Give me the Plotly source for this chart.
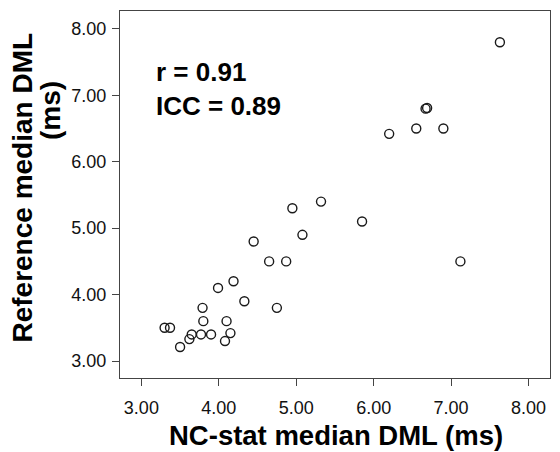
import plotly.graph_objects as go

nc_stat = [4.95, 5.32, 5.85, 5.08, 4.45, 4.65, 4.87, 7.12, 4.19, 3.99, 4.33, 4.75,
           3.79, 3.80, 4.10, 3.30, 3.37, 3.65, 3.77, 3.90, 4.15, 3.62, 3.50, 4.08,
           7.63, 6.67, 6.69, 6.20, 6.55, 6.90]
reference = [5.30, 5.40, 5.10, 4.90, 4.80, 4.50, 4.50, 4.50, 4.20, 4.10, 3.90, 3.80,
             3.80, 3.60, 3.60, 3.50, 3.50, 3.40, 3.40, 3.40, 3.42, 3.33, 3.21, 3.30,
             7.80, 6.80, 6.81, 6.42, 6.50, 6.50]
tick_vals = [3, 4, 5, 6, 7, 8]
tick_text = ["3.00", "4.00", "5.00", "6.00", "7.00", "8.00"]

FONT = "Liberation Sans, Arial, sans-serif"
AXC = "#444444"

fig = go.Figure()
fig.add_trace(go.Scatter(
    x=nc_stat, y=reference, mode="markers",
    marker=dict(symbol="circle-open", size=9, color="#1a1a1a", line=dict(width=1.4)),
    showlegend=False, hoverinfo="x+y",
))

axis_common = dict(
    showgrid=False, zeroline=False, showline=True, mirror=True,
    linecolor=AXC, linewidth=1.4, ticks="outside", ticklen=7,
    tickcolor=AXC, tickwidth=1.3,
    tickvals=tick_vals, ticktext=tick_text,
    tickfont=dict(family=FONT, size=18, color="#111111"),
)

# the page body adds an 8px offset, so the figure is sized to fit the visible area
fig.update_layout(
    width=552, height=444, autosize=False,
    margin=dict(l=112, r=10, t=3, b=74),
    paper_bgcolor="white", plot_bgcolor="white",
    xaxis=dict(range=[2.724, 8.277], ticklabelstandoff=6, **axis_common),
    yaxis=dict(range=[2.744, 8.27], ticklabelstandoff=2, **axis_common),
    annotations=[
        dict(text="<b>r = 0.91<br>ICC = 0.89</b>", xref="paper", yref="paper",
             x=0.080, y=0.7875, xanchor="left", yanchor="middle", align="left",
             showarrow=False, font=dict(family=FONT, size=26, color="black")),
        dict(text="<b>NC-stat median DML (ms)</b>", xref="paper", yref="paper",
             x=0.502, y=-0.158, xanchor="center", yanchor="middle",
             showarrow=False, font=dict(family=FONT, size=27.5, color="black")),
        dict(text="<b>Reference median DML</b>", xref="paper", yref="paper",
             x=-0.229, y=0.5177, xanchor="center", yanchor="middle", textangle=-90,
             showarrow=False, font=dict(family=FONT, size=28, color="black")),
        dict(text="<b>(ms)</b>", xref="paper", yref="paper",
             x=-0.163, y=0.730, xanchor="center", yanchor="middle", textangle=-90,
             showarrow=False, font=dict(family=FONT, size=28, color="black")),
    ],
)

fig.write_html("out.html")
